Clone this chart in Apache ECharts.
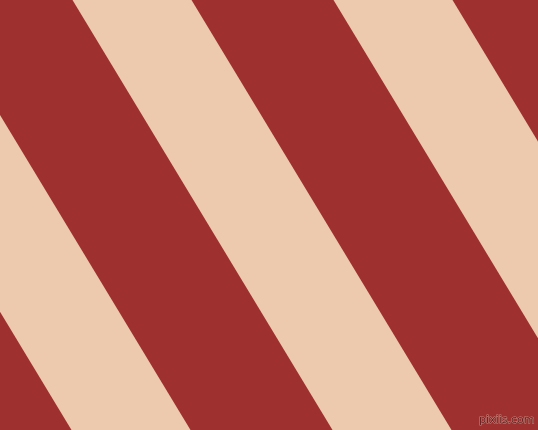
<!DOCTYPE html>
<html>
<head>
<meta charset="utf-8">
<style>html,body{margin:0;padding:0;}#c{width:538px;height:430px;}</style>
<script src="https://cdn.jsdelivr.net/npm/echarts@6/dist/echarts.min.js"></script>
</head>
<body>
<div id="c"></div>
<script>
// Stripe data: x position of the left edge at top (y=0) and bottom (y=430)
var stripeTopStart = [-188.5, 72.5, 333.5];
var stripeBottomStart = [71.5, 332.5, 593.5];
var stripeWidth = [119, 119, 119];
var yTop = 0;
var yBottom = 430;

var data = stripeTopStart.map(function (t, i) {
  return [t, stripeBottomStart[i], stripeWidth[i]];
});

var chart = echarts.init(document.getElementById('c'));
chart.setOption({
  backgroundColor: '#9f3030',
  animation: false,
  grid: { left: 0, right: 0, top: 0, bottom: 0 },
  xAxis: { type: 'value', min: 0, max: 538, show: false },
  yAxis: { type: 'value', min: 0, max: 430, inverse: true, show: false },
  series: [{
    type: 'custom',
    clip: true,
    data: data,
    renderItem: function (params, api) {
      var t = api.value(0), b = api.value(1), w = api.value(2);
      var pts = [
        api.coord([t, yTop]),
        api.coord([t + w, yTop]),
        api.coord([b + w, yBottom]),
        api.coord([b, yBottom])
      ];
      return {
        type: 'polygon',
        shape: { points: pts },
        style: { fill: '#edcaae' }
      };
    }
  }],
  graphic: [{
    type: 'text',
    right: 3,
    bottom: 4,
    style: {
      text: 'pixiis.com',
      font: '11px "DejaVu Sans"',
      fill: '#6a2222',
      stroke: '#c88a80',
      lineWidth: 1
    }
  }]
});
</script>
</body>
</html>
